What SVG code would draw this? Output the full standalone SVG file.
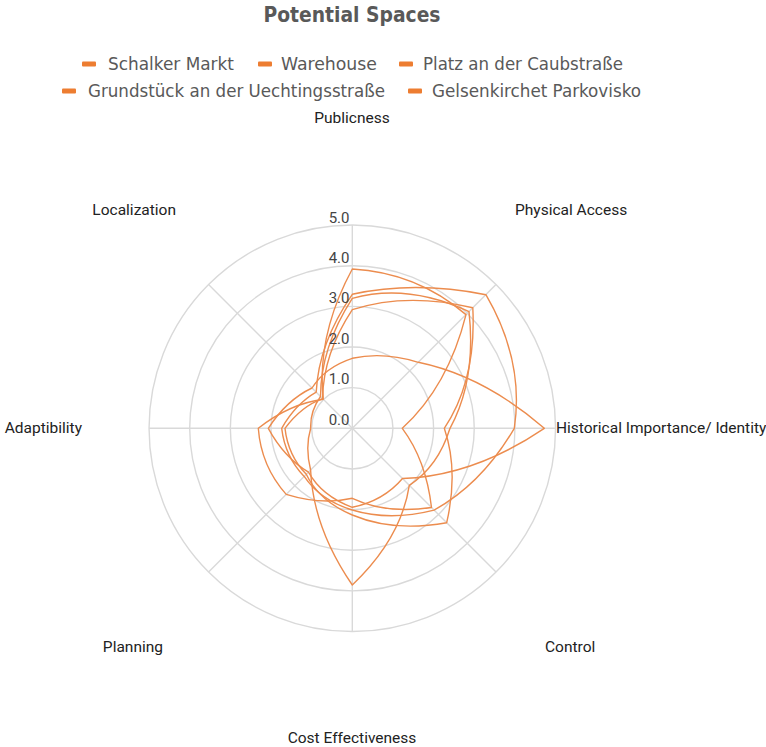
<svg xmlns="http://www.w3.org/2000/svg" width="766" height="747" viewBox="0 0 766 747">
<style>
.title{font-family:'DejaVu Sans Condensed','DejaVu Sans',sans-serif;font-stretch:condensed;font-weight:bold;font-size:21px;fill:#595959}
.leg{font-family:'DejaVu Sans Condensed','DejaVu Sans',sans-serif;font-stretch:condensed;font-size:18px;fill:#595959}
.mk{fill:#ED7D31}
.ax{font-family:Roboto,'Liberation Sans',sans-serif;font-size:15.5px;fill:#222}
.tk{font-family:Roboto,'Liberation Sans',sans-serif;font-size:15px;fill:#444;text-anchor:end}
.ring{fill:none;stroke:#d9d9d9;stroke-width:1.4}
.spoke{stroke:#d9d9d9;stroke-width:1.4}
.ser{fill:none;stroke:#EC8C4E;stroke-width:1.4;stroke-linejoin:round}
</style>
<rect width="766" height="747" fill="#fff"/>
<text class="title" x="352" y="22" text-anchor="middle" textLength="177" lengthAdjust="spacingAndGlyphs">Potential Spaces</text>
<g id="legend">
<rect class="mk" x="82" y="61.5" width="14" height="5" rx="1"/>
<text class="leg" x="108" y="70" textLength="126" lengthAdjust="spacingAndGlyphs">Schalker Markt</text>
<rect class="mk" x="258" y="61.5" width="14" height="5" rx="1"/>
<text class="leg" x="281" y="70" textLength="96" lengthAdjust="spacingAndGlyphs">Warehouse</text>
<rect class="mk" x="399" y="61.5" width="14" height="5" rx="1"/>
<text class="leg" x="423" y="70" textLength="200" lengthAdjust="spacingAndGlyphs">Platz an der Caubstraße</text>
<rect class="mk" x="62" y="88.5" width="14" height="5" rx="1"/>
<text class="leg" x="88" y="97" textLength="297" lengthAdjust="spacingAndGlyphs">Grundstück an der Uechtingsstraße</text>
<rect class="mk" x="408" y="88.5" width="14" height="5" rx="1"/>
<text class="leg" x="432" y="97" textLength="209" lengthAdjust="spacingAndGlyphs">Gelsenkirchet Parkovisko</text>
</g>
<g id="grid" transform="translate(352.3,428.3)">
<circle class="ring" r="40.65"/>
<circle class="ring" r="81.3"/>
<circle class="ring" r="121.95"/>
<circle class="ring" r="162.6"/>
<circle class="ring" r="203.25"/>
<line class="spoke" x1="0" y1="0" x2="0" y2="-203.25"/>
<line class="spoke" x1="0" y1="0" x2="143.7" y2="-143.7"/>
<line class="spoke" x1="0" y1="0" x2="203.25" y2="0"/>
<line class="spoke" x1="0" y1="0" x2="143.7" y2="143.7"/>
<line class="spoke" x1="0" y1="0" x2="0" y2="203.25"/>
<line class="spoke" x1="0" y1="0" x2="-143.7" y2="143.7"/>
<line class="spoke" x1="0" y1="0" x2="-203.25" y2="0"/>
<line class="spoke" x1="0" y1="0" x2="-143.7" y2="-143.7"/>
</g>
<g id="series" transform="translate(352.3,428.3)">
<path id="s-a" class="ser" d="M0,-130 Q55.1,-145.3 116.7,-116.7 Q124.2,-48.7 97.7,0 Q85.9,38.1 57,57 Q48.8,110.2 0,156.7 Q-39.2,99.6 -41.7,41.7 Q-47.4,18.9 -41.6,0 Q-42.3,-17 -31.8,-31.8 Q-31.7,-80.9 0,-130Z"/>
<path id="s-b" class="ser" d="M0,-118.6 Q54.3,-136.3 120.5,-120.5 Q124.2,-48.2 92,0 Q106.4,42.3 94.4,94.4 Q41.1,104 0,86.7 Q-33.3,72.7 -46,46 Q-64.3,27 -67.3,0 Q-50.9,-22.1 -29.7,-29.7 Q-29.2,-74.2 0,-118.6Z"/>
<path id="s-c" class="ser" d="M0,-134 Q62.3,-147.7 133.6,-133.6 Q172.2,-67.4 162,0 Q129.6,55.6 81.8,81.8 Q37.1,93.1 0,81.7 Q-31.9,72.1 -48.1,48.1 Q-67.3,28.3 -70.6,0 Q-56.7,-24.3 -36.1,-36.1 Q-33.7,-85.4 0,-134Z"/>
<path id="s-d" class="ser" d="M0,-159.3 Q64.3,-155.8 113.7,-113.7 Q95.8,-42 50,0 Q73.8,31.9 79.2,79.2 Q33.9,86 0,70 Q-30.9,77 -66.1,66.1 Q-91.2,37.9 -94,0 Q-62.3,-24.7 -29,-29 Q-36,-92.7 0,-159.3Z"/>
<path id="s-e" class="ser" d="M0,-70 Q30.9,-76.9 66,-66 Q131.5,-52.4 192,0 Q121.5,47.8 50.2,50.2 Q31.2,72.6 0,79 Q-30.5,67.7 -43.8,43.8 Q-68.2,29.1 -84,0 Q-65.7,-28.3 -40.3,-40.3 Q-27.2,-61.1 0,-70Z"/>
</g>
<g id="ticks">
<text class="tk" x="349.5" y="424.5">0.0</text>
<text class="tk" x="349.5" y="384.1">1.0</text>
<text class="tk" x="349.5" y="343.7">2.0</text>
<text class="tk" x="349.5" y="303.3">3.0</text>
<text class="tk" x="349.5" y="262.9">4.0</text>
<text class="tk" x="349.5" y="222.5">5.0</text>
</g>
<g id="axis-labels">
<text class="ax" x="352" y="123" text-anchor="middle">Publicness</text>
<text class="ax" x="515" y="215">Physical Access</text>
<text class="ax" x="556" y="433">Historical Importance/ Identity</text>
<text class="ax" x="545" y="652">Control</text>
<text class="ax" x="352" y="743" text-anchor="middle">Cost Effectiveness</text>
<text class="ax" x="163" y="652" text-anchor="end">Planning</text>
<text class="ax" x="82" y="433" text-anchor="end">Adaptibility</text>
<text class="ax" x="176" y="215" text-anchor="end">Localization</text>
</g>
</svg>
